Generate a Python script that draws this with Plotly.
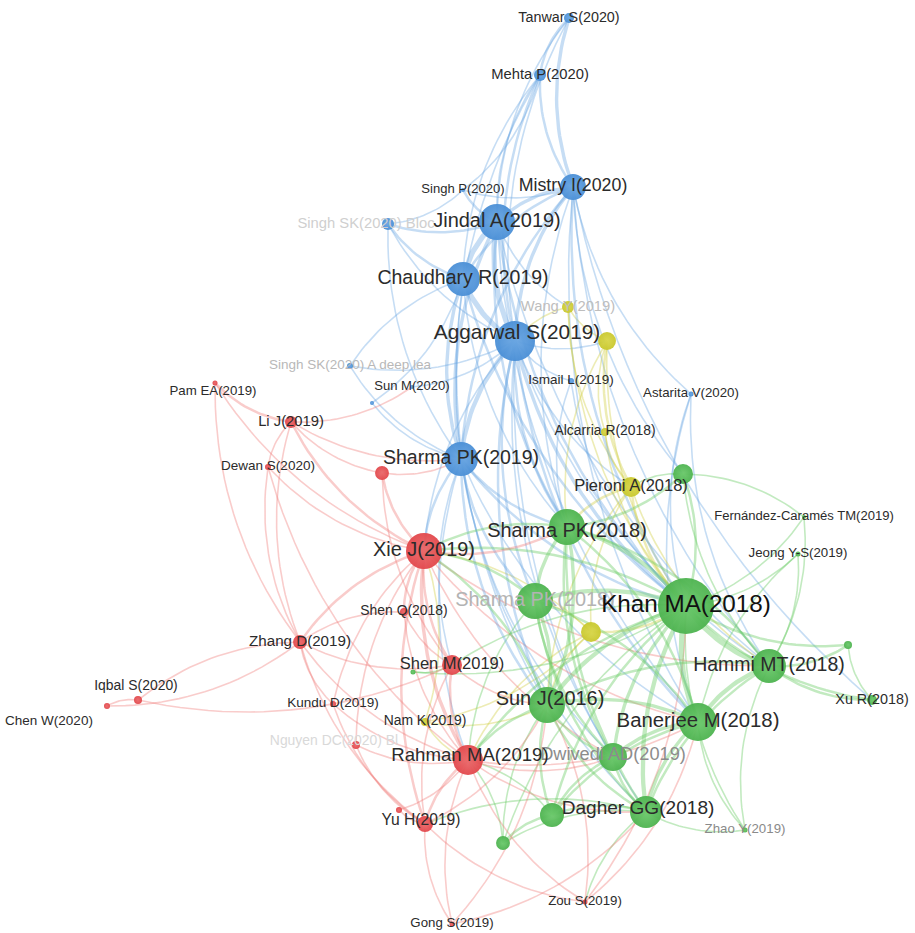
import numpy as np
import plotly.graph_objects as go

# ---------------- DATA ----------------
# node ids, labels, map coordinates (VOSviewer layout units), citation weight, cluster
NODE_IDS = ["tanwar", "mehta", "mistry", "singhp", "singhsk1", "jindal", "chaudhary", "aggarwal",
            "singhsk2", "sunm", "bluedot", "ismail", "astarita", "sharma19",
            "wangy", "yel2", "alcarria", "pieroni", "yel3", "namk",
            "grn1", "fernandez", "jeong", "sharma18a", "sharma18b", "khan", "hammi", "grn2", "xur",
            "sunj", "banerjee", "dwivedi", "dagher", "grn3", "grn4", "zhao", "grntiny",
            "pam", "lij", "dewan", "red1", "xie", "shenq", "zhang", "shenm", "iqbal", "chen",
            "kundu", "nguyen", "rahman", "red2", "yuh", "zou", "gong"]
NODE_LABELS = ["Tanwar S(2020)", "Mehta P(2020)", "Mistry I(2020)", "Singh P(2020)",
               "Singh SK(2020) Bloc", "Jindal A(2019)", "Chaudhary R(2019)", "Aggarwal S(2019)",
               "Singh SK(2020) A deep lea", "Sun M(2020)", "", "Ismail L(2019)", "Astarita V(2020)",
               "Sharma PK(2019)",
               "Wang Y(2019)", "", "Alcarria R(2018)", "Pieroni A(2018)", "", "Nam K(2019)",
               "", "Fernández-Caramés TM(2019)", "Jeong Y-S(2019)", "Sharma PK(2018)", "Sharma PK(2018)",
               "Khan MA(2018)", "Hammi MT(2018)", "", "Xu R(2018)",
               "Sun J(2016)", "Banerjee M(2018)", "Dwivedi AD(2019)", "Dagher GG(2018)", "", "", "Zhao Y(2019)", "",
               "Pam EA(2019)", "Li J(2019)", "Dewan S(2020)", "", "Xie J(2019)", "Shen Q(2018)", "Zhang D(2019)",
               "Shen M(2019)", "Iqbal S(2020)", "Chen W(2020)",
               "Kundu D(2019)", "Nguyen DC(2020) Bl", "Rahman MA(2019)", "", "Yu H(2019)", "Zou S(2019)", "Gong S(2019)"]
NODE_X = [569, 540, 573, 463, 388, 497, 463, 515,
          350, 412, 372, 571, 691, 461,
          568, 607, 605, 631, 591, 425,
          683, 804, 798, 567, 535, 686, 769, 848, 872,
          547, 698, 613, 646, 552, 503, 745, 413,
          215, 291, 268, 382, 424, 404, 300, 452, 138, 107,
          333, 356, 468, 399, 425, 585, 452]
NODE_Y = [18, 75, 187, 190, 224, 222, 279, 341,
          366, 387, 403, 381, 394, 459,
          307, 341, 432, 487, 632, 722,
          474, 517, 554, 527, 601, 606, 666, 645, 700,
          705, 722, 757, 812, 815, 843, 830, 672,
          383, 422, 467, 473, 551, 612, 642, 665, 700, 706,
          704, 745, 760, 810, 824, 902, 924]
NODE_WEIGHT = [6.3, 9, 42, 1, 9, 81, 72, 100,
               2.3, 1, 1, 2.3, 1.6, 72,
               9, 20, 4, 25, 25, 4,
               25, 1, 1.6, 81, 81, 196, 72, 4, 6.3,
               81, 90, 49, 64, 36, 12, 1.6, 1.6,
               1.6, 9, 2.3, 12, 81, 4, 12, 25, 4, 2.3,
               2.3, 4, 56, 2.3, 16, 1.6, 1.6]
NODE_CLUSTER = ["blue"] * 14 + ["yellow"] * 6 + ["green"] * 17 + ["red"] * 17

# co-citation links: (node a, node b, link strength)
LINKS = [
    ("tanwar", "mehta", 2), ("tanwar", "mistry", 3), ("tanwar", "jindal", 1), ("tanwar", "aggarwal", 1),
    ("mehta", "mistry", 2), ("mehta", "jindal", 1), ("mehta", "aggarwal", 2), ("mehta", "sharma19", 1),
    ("mehta", "chaudhary", 1),
    ("mistry", "jindal", 3), ("mistry", "aggarwal", 3), ("mistry", "chaudhary", 2), ("mistry", "sharma19", 2),
    ("mistry", "khan", 2), ("mistry", "hammi", 1), ("mistry", "banerjee", 1), ("mistry", "sharma18a", 1),
    ("mistry", "astarita", 1), ("mistry", "grn1", 1), ("mistry", "xur", 1),
    ("singhp", "jindal", 2), ("singhp", "mistry", 1), ("singhp", "mehta", 1),
    ("singhsk1", "jindal", 2), ("singhsk1", "chaudhary", 2), ("singhsk1", "aggarwal", 1),
    ("singhsk1", "sharma19", 1), ("singhsk1", "singhp", 1),
    ("jindal", "chaudhary", 5), ("jindal", "aggarwal", 5), ("jindal", "sharma19", 3), ("jindal", "khan", 2),
    ("jindal", "sharma18a", 2), ("jindal", "banerjee", 1), ("jindal", "hammi", 1), ("jindal", "wangy", 1),
    ("chaudhary", "aggarwal", 5), ("chaudhary", "sharma19", 3), ("chaudhary", "khan", 2),
    ("chaudhary", "sharma18a", 1), ("chaudhary", "sunj", 1), ("chaudhary", "singhsk2", 1),
    ("aggarwal", "sharma19", 4), ("aggarwal", "khan", 3), ("aggarwal", "sharma18a", 2),
    ("aggarwal", "sharma18b", 2), ("aggarwal", "sunj", 2), ("aggarwal", "banerjee", 2),
    ("aggarwal", "hammi", 1), ("aggarwal", "dagher", 1), ("aggarwal", "dwivedi", 1), ("aggarwal", "ismail", 1),
    ("aggarwal", "yel2", 1), ("aggarwal", "xie", 1), ("aggarwal", "pieroni", 1),
    ("sharma19", "khan", 2), ("sharma19", "sharma18a", 2), ("sharma19", "sharma18b", 2), ("sharma19", "sunj", 2),
    ("sharma19", "xie", 2), ("sharma19", "rahman", 1), ("sharma19", "dwivedi", 1), ("sharma19", "banerjee", 1),
    ("sharma19", "dagher", 1), ("sharma19", "shenm", 1),
    ("sunm", "aggarwal", 1), ("bluedot", "sharma19", 1), ("bluedot", "chaudhary", 1),
    ("singhsk2", "aggarwal", 1), ("singhsk2", "sharma19", 1), ("ismail", "khan", 1), ("ismail", "sharma18a", 1),
    ("astarita", "khan", 1), ("astarita", "hammi", 1), ("astarita", "banerjee", 1),
    ("wangy", "yel2", 1), ("wangy", "aggarwal", 1), ("wangy", "khan", 1), ("wangy", "pieroni", 1),
    ("yel2", "pieroni", 2), ("yel2", "khan", 1), ("yel2", "sharma18a", 1), ("yel2", "alcarria", 1),
    ("alcarria", "pieroni", 1), ("alcarria", "khan", 1),
    ("pieroni", "khan", 2), ("pieroni", "sharma18a", 2), ("pieroni", "yel3", 1), ("pieroni", "hammi", 1),
    ("pieroni", "sunj", 1),
    ("yel3", "khan", 2), ("yel3", "sharma18b", 1), ("yel3", "xie", 1), ("yel3", "sunj", 1), ("yel3", "rahman", 1),
    ("namk", "rahman", 1), ("namk", "xie", 1), ("namk", "sunj", 1), ("namk", "yel3", 1),
    ("khan", "sharma18a", 4), ("khan", "sharma18b", 4), ("khan", "hammi", 5), ("khan", "sunj", 4),
    ("khan", "banerjee", 5), ("khan", "dwivedi", 3), ("khan", "dagher", 4), ("khan", "grn1", 2),
    ("khan", "grn2", 2), ("khan", "xur", 2), ("khan", "jeong", 1), ("khan", "fernandez", 1), ("khan", "zhao", 1),
    ("khan", "grn3", 2), ("khan", "grn4", 1), ("khan", "rahman", 2), ("khan", "xie", 2), ("khan", "shenm", 1),
    ("hammi", "banerjee", 4), ("hammi", "sharma18a", 2), ("hammi", "sunj", 2), ("hammi", "xur", 2),
    ("hammi", "grn2", 2), ("hammi", "dagher", 2), ("hammi", "jeong", 1), ("hammi", "fernandez", 1),
    ("hammi", "zhao", 1),
    ("banerjee", "sunj", 3), ("banerjee", "dagher", 3), ("banerjee", "dwivedi", 3), ("banerjee", "sharma18a", 2),
    ("banerjee", "sharma18b", 2), ("banerjee", "zhao", 1), ("banerjee", "grn3", 2),
    ("sunj", "sharma18a", 3), ("sunj", "sharma18b", 3), ("sunj", "dwivedi", 2), ("sunj", "dagher", 2),
    ("sunj", "grn3", 2), ("sunj", "grn4", 1), ("sunj", "rahman", 2), ("sunj", "xie", 2),
    ("sharma18a", "sharma18b", 3), ("sharma18a", "grn1", 2), ("sharma18a", "dwivedi", 2),
    ("sharma18a", "dagher", 2), ("sharma18a", "xie", 2),
    ("sharma18b", "dwivedi", 2), ("sharma18b", "dagher", 2), ("sharma18b", "xie", 2), ("sharma18b", "rahman", 1),
    ("dwivedi", "dagher", 2), ("dwivedi", "grn3", 2), ("dagher", "grn3", 2), ("dagher", "zhao", 1),
    ("dagher", "grn4", 1), ("grn3", "grn4", 2), ("grn3", "rahman", 1), ("grn4", "rahman", 1),
    ("grn1", "hammi", 1), ("grn1", "pieroni", 1), ("grn2", "xur", 1), ("fernandez", "grn1", 1),
    ("jeong", "banerjee", 1), ("grntiny", "shenm", 1), ("grntiny", "khan", 1),
    ("dagher", "yuh", 1), ("dagher", "zou", 1),
    ("pam", "lij", 2), ("pam", "xie", 1), ("pam", "zhang", 1),
    ("lij", "xie", 2), ("lij", "zhang", 1), ("lij", "dewan", 1), ("lij", "sunm", 1), ("lij", "red1", 1),
    ("lij", "sharma19", 1),
    ("dewan", "xie", 1), ("dewan", "zhang", 1), ("dewan", "rahman", 1),
    ("red1", "xie", 2), ("red1", "sharma19", 1), ("red1", "shenm", 1),
    ("xie", "shenq", 2), ("xie", "shenm", 2), ("xie", "zhang", 2), ("xie", "rahman", 3), ("xie", "yuh", 2),
    ("xie", "kundu", 1), ("xie", "nguyen", 1), ("xie", "sharma18a", 2), ("xie", "dwivedi", 1),
    ("xie", "banerjee", 1), ("xie", "hammi", 1),
    ("shenq", "shenm", 1), ("shenq", "rahman", 1), ("shenq", "zhang", 1),
    ("zhang", "iqbal", 1), ("zhang", "shenm", 1), ("zhang", "rahman", 1), ("zhang", "kundu", 1),
    ("zhang", "yuh", 1), ("chen", "zhang", 1),
    ("iqbal", "chen", 1), ("iqbal", "shenm", 1),
    ("shenm", "rahman", 2), ("shenm", "yuh", 1), ("shenm", "sunj", 1),
    ("kundu", "rahman", 1), ("kundu", "yuh", 1), ("nguyen", "rahman", 1), ("nguyen", "yuh", 1),
    ("rahman", "yuh", 2), ("rahman", "gong", 1), ("rahman", "zou", 1), ("rahman", "dagher", 1),
    ("rahman", "dwivedi", 1), ("rahman", "banerjee", 1),
    ("red2", "yuh", 1), ("red2", "rahman", 1),
    ("yuh", "gong", 1), ("yuh", "zou", 1), ("yuh", "sunj", 1),
    ("gong", "sunj", 1), ("gong", "dagher", 1), ("zou", "sunj", 1), ("zou", "banerjee", 1), ("zou", "khan", 1),
]

# ---------------- STYLE ----------------
NODE_COLOR = {"blue": "#4a8fd6", "yellow": "#c9c82e", "green": "#4db34f", "red": "#e2474b"}
NODE_CENTER = {"blue": "#6aa6e2", "yellow": "#d8d64a", "green": "#6cc96c", "red": "#ea6a6c"}
EDGE_RGB = {"blue": (105, 165, 225), "yellow": (210, 208, 70), "green": (110, 205, 105), "red": (238, 120, 118)}
EDGE_ALPHA = {"blue": 0.38, "yellow": 0.4, "green": 0.42, "red": 0.38}
FADED = {"singhsk1": "#cfcfcf", "singhsk2": "#b8b8b8", "wangy": "#bdbdbd", "sharma18b": "#b3b3b3",
         "dwivedi": "#8c8c8c", "nguyen": "#d9d9d9", "zhao": "#8a8a8a"}
LABEL_SHIFT = {"singhsk1": (-22, 0), "aggarwal": (2, -7), "sunj": (3, -5), "sharma18a": (0, 5),
               "dagher": (-8, -3), "pam": (-2, 9), "iqbal": (-2, -13), "chen": (-58, 16),
               "nguyen": (-22, -3), "rahman": (2, -4), "yuh": (-4, -3), "dwivedi": (0, -2)}
FONT = "Liberation Sans, Arial, sans-serif"
CURV = 0.17

idx = {n: i for i, n in enumerate(NODE_IDS)}
radius = [2.0 * np.sqrt(w) for w in NODE_WEIGHT]

fig = go.Figure()

# ---- links, grouped by colour and strength ----
groups = {}
t = np.linspace(0, 1, 24)
for a, b, s in LINKS:
    ia, ib = idx[a], idx[b]
    ax_, ay_ = NODE_X[ia], NODE_Y[ia]
    bx_, by_ = NODE_X[ib], NODE_Y[ib]
    dx, dy = bx_ - ax_, by_ - ay_
    cx = (ax_ + bx_) / 2 - dy * CURV
    cy = (ay_ + by_) / 2 + dx * CURV
    xs = (1 - t) ** 2 * ax_ + 2 * (1 - t) * t * cx + t ** 2 * bx_
    ys = (1 - t) ** 2 * ay_ + 2 * (1 - t) * t * cy + t ** 2 * by_
    key = (NODE_CLUSTER[ia], s)
    g = groups.setdefault(key, ([], []))
    g[0].extend(list(xs) + [None])
    g[1].extend(list(ys) + [None])

for (cl, s), (xs, ys) in sorted(groups.items(), key=lambda k: k[0][1]):
    r, gg, bb = EDGE_RGB[cl]
    fig.add_trace(go.Scatter(
        x=xs, y=ys, mode="lines", hoverinfo="skip", showlegend=False,
        line=dict(color=f"rgba({r},{gg},{bb},{EDGE_ALPHA[cl]})", width=0.7 + 0.9 * s)))

# ---- nodes ----
for cl in ["red", "yellow", "blue", "green"]:
    ii = [i for i in range(len(NODE_IDS)) if NODE_CLUSTER[i] == cl]
    fig.add_trace(go.Scatter(
        x=[NODE_X[i] for i in ii], y=[NODE_Y[i] for i in ii], mode="markers",
        hovertext=[NODE_LABELS[i] for i in ii], hoverinfo="text", showlegend=False,
        marker=dict(size=[2 * radius[i] for i in ii], color=NODE_COLOR[cl], opacity=0.95,
                    line=dict(width=0),
                    gradient=dict(type="radial", color=NODE_CENTER[cl]))))

# ---- labels ----
lx, ly, lt, ls, lc = [], [], [], [], []
for i, n in enumerate(NODE_IDS):
    if not NODE_LABELS[i]:
        continue
    dx, dy = LABEL_SHIFT.get(n, (0, 0))
    lx.append(NODE_X[i] + dx)
    ly.append(NODE_Y[i] + dy)
    lt.append(NODE_LABELS[i])
    ls.append(12.2 + 0.43 * radius[i])
    if n in FADED:
        lc.append(FADED[n])
    elif n == "khan":
        lc.append("#111111")
    else:
        lc.append("#2b2b2b")

fig.add_trace(go.Scatter(
    x=lx, y=ly, text=lt, mode="text", textposition="middle center", hoverinfo="skip", showlegend=False,
    textfont=dict(family=FONT, size=ls, color=lc)))

fig.update_layout(
    width=915, height=933, autosize=False,
    margin=dict(l=0, r=0, t=0, b=0),
    paper_bgcolor="white", plot_bgcolor="white",
    xaxis=dict(range=[0, 915], visible=False, fixedrange=True),
    yaxis=dict(range=[933, 0], visible=False, fixedrange=True),
)

fig.write_html("out.html")
